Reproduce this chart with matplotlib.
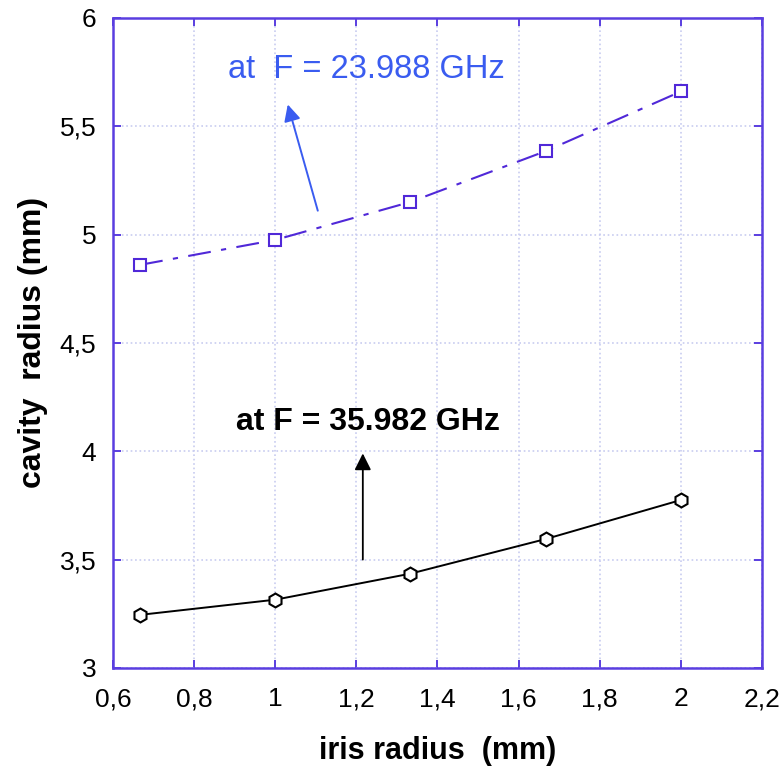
import numpy as np
import matplotlib.pyplot as plt
from matplotlib.ticker import FuncFormatter

plt.rcParams['font.family'] = ['Liberation Sans', 'DejaVu Sans']

# data
iris = [0.667, 1.0, 1.333, 1.667, 2.0]
cav_24 = [4.86, 4.975, 5.15, 5.385, 5.66]
cav_36 = [3.245, 3.315, 3.435, 3.595, 3.775]

xticks = [0.6, 0.8, 1.0, 1.2, 1.4, 1.6, 1.8, 2.0, 2.2]
yticks = [3, 3.5, 4, 4.5, 5, 5.5, 6]

spine_col = '#5a3ee0'
blue_line = '#5028d8'
blue_txt = '#3a5cf0'

fig = plt.figure(figsize=(7.84, 7.74), dpi=100)
ax = fig.add_axes([0.144, 0.137, 0.828, 0.84])

ax.plot(iris, cav_24, color=blue_line, lw=1.5, dashes=(11, 5, 2.5, 5),
        marker='s', ms=8.5, mfc='white', mec=blue_line, mew=1.5)
ax.plot(iris, cav_36, color='black', lw=1.4,
        marker='h', ms=10, mfc='white', mec='black', mew=1.5)

# annotations
ax.annotate('', xy=(1.031, 5.60), xytext=(1.105, 5.11),
            arrowprops=dict(arrowstyle='-|>', color=blue_txt, lw=1.4,
                            mutation_scale=25, shrinkA=0, shrinkB=0))
ax.text(0.883, 5.76, 'at  F = 23.988 GHz', color=blue_txt, fontsize=23.5,
        va='center', ha='left')
ax.annotate('', xy=(1.216, 3.99), xytext=(1.216, 3.5),
            arrowprops=dict(arrowstyle='-|>', color='black', lw=1.3,
                            mutation_scale=25, shrinkA=0, shrinkB=0))
ax.text(0.903, 4.135, 'at F = 35.982 GHz', color='black', fontsize=23,
        fontweight='bold', va='center', ha='left')

ax.set_xlim(0.6, 2.2)
ax.set_ylim(3, 6)
ax.set_xticks(xticks)
ax.set_yticks(yticks)
fmt = FuncFormatter(lambda v, p: ('%g' % v).replace('.', ','))
ax.xaxis.set_major_formatter(fmt)
ax.yaxis.set_major_formatter(fmt)

ax.grid(True, color='#c8ccf0', ls=':', lw=1.2)
for s in ax.spines.values():
    s.set_color(spine_col)
    s.set_linewidth(1.8)
ax.tick_params(direction='in', length=6, width=1.4, color=spine_col,
               labelsize=19, top=True, right=True)
ax.tick_params(axis='x', pad=14)
ax.tick_params(axis='y', pad=12)

ax.set_xlabel('iris radius  (mm)', fontsize=22, fontweight='bold', labelpad=18)
ax.set_ylabel('cavity  radius (mm)', fontsize=23, fontweight='bold', labelpad=8)

fig.savefig('out.png', dpi=100)
